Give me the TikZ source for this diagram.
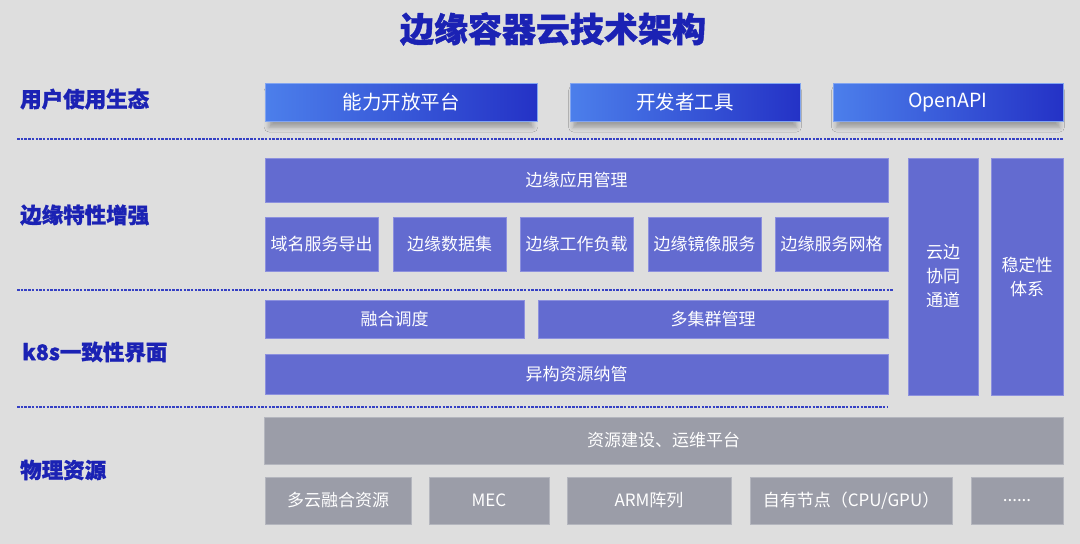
\documentclass[tikz,border=0pt]{standalone}
\usepackage{fontspec}
\newfontfamily\cjk{Noto Sans CJK SC}
\newfontfamily\cjkheavy[BoldFeatures={FakeBold=1.2}]{Noto Sans CJK SC}
\usetikzlibrary{shadows.blur}
\definecolor{bgcol}{HTML}{DEDEDE}
\definecolor{titleblue}{HTML}{1B22B4}
\definecolor{dashblue}{HTML}{3540C4}
\definecolor{boxpurple}{HTML}{636BD0}
\definecolor{boxedge}{HTML}{8C90DE}
\definecolor{boxgray}{HTML}{9B9DA8}
\definecolor{grayedge}{HTML}{B4B6BE}
\definecolor{gradL}{HTML}{4C7FEB}
\definecolor{gradR}{HTML}{2432C6}
\tikzset{
  pbox/.style={fill=boxpurple, draw=boxedge, line width=0.8pt, text=white, inner sep=0pt,
    font=\cjk\fontsize{17}{24}\selectfont, align=center},
  gbox/.style={fill=boxgray, draw=grayedge, line width=0.8pt, text=white, inner sep=0pt,
    font=\cjk\fontsize{17}{24}\selectfont, align=center},
  tbox/.style={left color=gradL, right color=gradR, draw=gradL!70!white, line width=0.6pt,
    text=white, inner sep=0pt, font=\cjk\fontsize{19.5}{24}\selectfont,
    blur shadow={shadow xshift=0pt, shadow yshift=-7pt, shadow blur radius=5pt, shadow scale=0.97, shadow opacity=30}},
  layerlabel/.style={text=titleblue, font=\cjkheavy\bfseries\fontsize{21.5}{26}\selectfont, anchor=west, inner sep=0pt},
  sepline/.style={draw=dashblue, line width=1.1pt, dash pattern=on 2.5pt off 1.2pt},
}
\newcommand{\bx}[7]{%
  \node[#2, minimum width={(#5-#3)*1pt}, minimum height={(#6-#4)*1pt}] (#1) at ({(#3+#5)/2},{(#4+#6)/2}) {#7};}
\begin{document}
\begin{tikzpicture}[x=1pt,y=-1pt]
\fill[bgcol] (0,0) rectangle (1080,544);
\useasboundingbox (0,0) rectangle (1080,544);

\node[text=titleblue, font=\cjkheavy\bfseries\fontsize{34}{40}\selectfont, inner sep=0pt] (title) at (553,29) {边缘容器云技术架构};

% layer labels
\node[layerlabel] (l1) at (20,99) {用户使用生态};
\node[layerlabel] (l2) at (20,215) {边缘特性增强};
\node[layerlabel] (l3) at (22,352) {k8s一致性界面};
\node[layerlabel] (l4) at (20,470) {物理资源};

% separators
\coordinate (s1a) at (17,139); \coordinate (s1b) at (1063,139);
\coordinate (s2a) at (17,290); \coordinate (s2b) at (893,290);
\coordinate (s3a) at (17,407); \coordinate (s3b) at (888,407);
\draw[sepline] (s1a) -- (s1b);
\draw[sepline] (s2a) -- (s2b);
\draw[sepline] (s3a) -- (s3b);

% top row
\bx{t1}{tbox}{265}{83}{537}{121}{能力开放平台}
\bx{t2}{tbox}{570}{83}{800}{121}{开发者工具}
\bx{t3}{tbox}{833}{83}{1063}{121}{OpenAPI}

% edge features
\bx{app}{pbox}{265}{158}{888}{202}{边缘应用管理}
\bx{e1}{pbox}{265}{217}{378}{271}{域名服务导出}
\bx{e2}{pbox}{393}{217}{506}{271}{边缘数据集}
\bx{e3}{pbox}{520}{217}{633}{271}{边缘工作负载}
\bx{e4}{pbox}{648}{217}{761}{271}{边缘镜像服务}
\bx{e5}{pbox}{775}{217}{888}{271}{边缘服务网格}

% k8s
\bx{k1}{pbox}{265}{300}{524}{338}{融合调度}
\bx{k2}{pbox}{538}{300}{888}{338}{多集群管理}
\bx{k3}{pbox}{265}{354}{888}{394}{异构资源纳管}

% side columns
\bx{c1}{pbox}{908}{158}{978}{395}{云边\\协同\\通道}
\bx{c2}{pbox}{991}{158}{1063}{395}{稳定性\\体系}

% physical
\bx{p0}{gbox}{264}{417}{1063}{464}{资源建设、运维平台}
\bx{p1}{gbox}{265}{477}{411}{524}{多云融合资源}
\bx{p2}{gbox}{429}{477}{549}{524}{MEC}
\bx{p3}{gbox}{567}{477}{731}{524}{ARM阵列}
\bx{p4}{gbox}{750}{477}{952}{524}{自有节点（CPU/GPU）}
\bx{p5}{gbox}{971}{477}{1063}{524}{......}
\end{tikzpicture}
\end{document}
